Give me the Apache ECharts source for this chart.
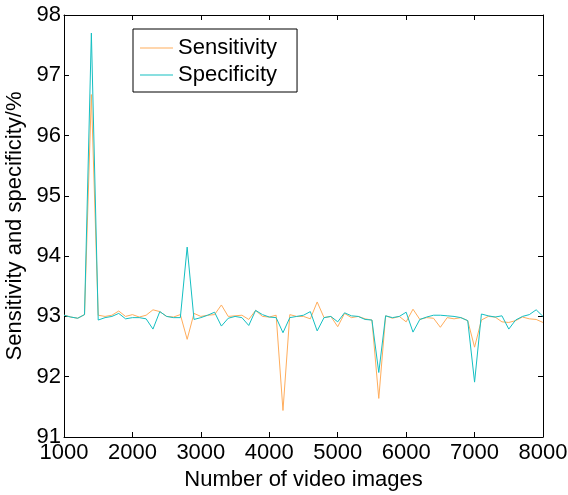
<!DOCTYPE html>
<html>
<head>
<meta charset="utf-8">
<script src="https://cdn.jsdelivr.net/npm/echarts@6/dist/echarts.min.js"></script>
<style>
html,body{margin:0;padding:0;background:#fff;}
#chart{width:568px;height:495px;}
</style>
</head>
<body>
<div id="chart"></div>
<script>
const imageCounts = [1000,1100,1200,1300,1400,1500,1600,1700,1800,1900,2000,2100,2200,2300,2400,2500,2600,2700,2800,2900,3000,3100,3200,3300,3400,3500,3600,3700,3800,3900,4000,4100,4200,4300,4400,4500,4600,4700,4800,4900,5000,5100,5200,5300,5400,5500,5600,5700,5800,5900,6000,6100,6200,6300,6400,6500,6600,6700,6800,6900,7000,7100,7200,7300,7400,7500,7600,7700,7800,7900,8000];
const sensitivity = [93.02,92.99,92.97,93.03,96.68,93.02,93.00,93.02,93.09,93.00,93.03,92.99,93.02,93.11,93.08,93.00,92.99,93.03,92.62,93.05,93.00,93.02,93.03,93.19,93.00,93.01,93.02,92.95,93.10,93.00,92.99,93.02,91.44,93.03,93.00,93.00,92.96,93.24,92.98,93.00,92.83,93.05,92.98,93.00,92.96,92.94,91.64,93.01,92.97,93.00,92.91,93.12,92.95,92.98,92.97,92.82,92.98,92.96,92.98,92.93,92.49,92.94,93.00,92.99,92.91,92.90,92.93,92.99,92.96,92.95,92.90];
const specificity = [93.02,92.99,92.97,93.03,97.70,92.94,92.98,93.00,93.05,92.96,92.98,92.98,92.96,92.79,93.08,93.00,92.98,92.98,94.15,92.95,92.98,93.02,93.07,92.84,92.97,93.00,92.98,92.85,93.10,93.03,92.99,92.98,92.73,92.98,93.00,93.02,93.08,92.76,92.98,93.00,92.91,93.06,93.01,93.00,92.95,92.94,92.07,93.01,92.98,93.00,93.07,92.74,92.95,92.99,93.02,93.02,93.01,93.00,92.98,92.93,91.91,93.04,93.01,92.99,93.01,92.79,92.94,93.00,93.03,93.11,93.00];
const seriesNames = ['Sensitivity','Specificity'];
const xTitle = 'Number of video images';
const yTitle = 'Sensitivity and specificity/%';

const FONT = '"Liberation Sans", Arial, Helvetica, sans-serif';
const pairs = (ys) => imageCounts.map((x, i) => [x, ys[i]]);

const chart = echarts.init(document.getElementById('chart'), null, {renderer: 'canvas'});
const axisLine = {show: true, onZero: false, lineStyle: {color: '#000', width: 1}};
const tick = {show: true, inside: true, length: 5, lineStyle: {color: '#000', width: 1}};
const plain = (v) => String(v);

chart.setOption({
  animation: false,
  backgroundColor: '#fff',
  grid: {left: 64, right: 25, top: 15, bottom: 58, containLabel: false, outerBoundsMode: 'none'},
  legend: {
    orient: 'vertical',
    left: 133, top: 29,
    data: seriesNames,
    icon: 'rect',
    itemWidth: 33, itemHeight: 1, itemGap: 5,
    padding: [8, 20, 6, 7],
    borderColor: '#000', borderWidth: 1,
    backgroundColor: '#fff',
    textStyle: {fontFamily: FONT, fontSize: 22, color: '#000', lineHeight: 22}
  },
  xAxis: [
    {type: 'value', position: 'bottom', min: 1000, max: 8000, interval: 1000,
     name: xTitle, nameLocation: 'middle', nameGap: 31,
     nameTextStyle: {fontFamily: FONT, fontSize: 22, color: '#000'},
     axisLine: axisLine, axisTick: tick, splitLine: {show: false},
     axisLabel: {fontFamily: FONT, fontSize: 22, color: '#000', margin: 5, formatter: plain}},
    {type: 'value', position: 'top', min: 1000, max: 8000, interval: 1000,
     axisLine: axisLine, axisTick: tick, splitLine: {show: false},
     axisLabel: {show: false}}
  ],
  yAxis: [
    {type: 'value', position: 'left', min: 91, max: 98, interval: 1,
     name: yTitle, nameLocation: 'middle', nameGap: 33,
     nameTextStyle: {fontFamily: FONT, fontSize: 22, color: '#000'},
     axisLine: axisLine, axisTick: tick, splitLine: {show: false},
     axisLabel: {fontFamily: FONT, fontSize: 22, color: '#000', margin: 3, formatter: plain}},
    {type: 'value', position: 'right', min: 91, max: 98, interval: 1,
     axisLine: axisLine, axisTick: tick, splitLine: {show: false},
     axisLabel: {show: false}}
  ],
  series: [
    {name: seriesNames[0], type: 'line', data: pairs(sensitivity), symbol: 'none',
     lineStyle: {color: '#FFAD5C', width: 1}, itemStyle: {color: '#FFAD5C'}},
    {name: seriesNames[1], type: 'line', data: pairs(specificity), symbol: 'none',
     lineStyle: {color: '#14BFC2', width: 1}, itemStyle: {color: '#14BFC2'}}
  ]
});
</script>
</body>
</html>
